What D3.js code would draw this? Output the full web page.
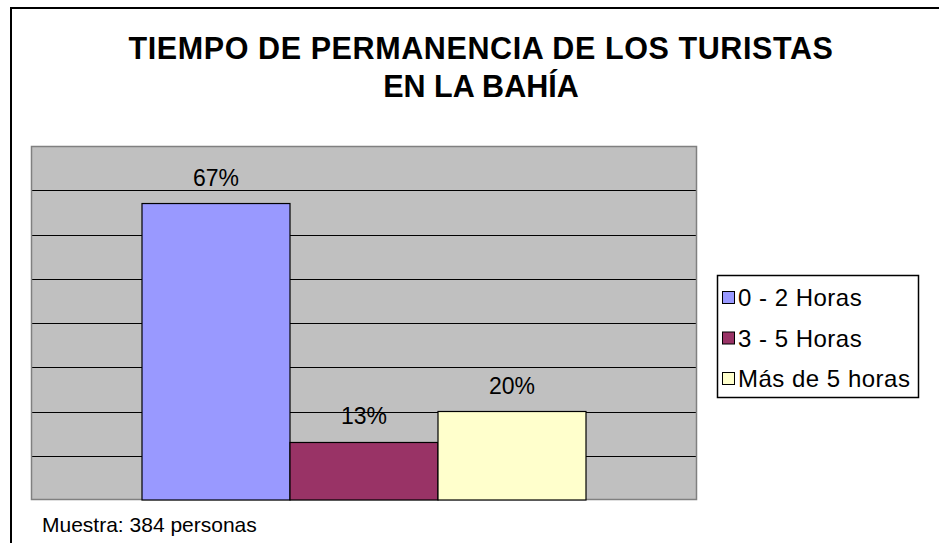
<!DOCTYPE html>
<html>
<head>
<meta charset="utf-8">
<script src="https://cdn.jsdelivr.net/npm/d3@7"></script>
<style>
  html, body { margin: 0; padding: 0; background: #fff; }
  svg { display: block; font-family: "Liberation Sans", Arial, sans-serif; }
</style>
</head>
<body>
<svg id="chart" width="939" height="543"></svg>
<script>
// datos del gráfico
const categories = ['Tiempo'];
const series = ['0 - 2 Horas', '3 - 5 Horas', 'Más de 5 horas'];
const values = [0.67, 0.13, 0.20];
const valueLabels = ['67%', '13%', '20%'];
const colors = ['#9999FF', '#993366', '#FFFFCC'];
const yTicks = [0.1, 0.2, 0.3, 0.4, 0.5, 0.6, 0.7];
const titleLines = ['TIEMPO DE PERMANENCIA DE LOS TURISTAS', 'EN LA BAHÍA'];
const footnote = 'Muestra: 384 personas';

const svg = d3.select('#chart');

// marco exterior (recortado a la derecha y abajo)
svg.append('rect')
  .attr('x', 11).attr('y', 8)
  .attr('width', 960).attr('height', 560)
  .attr('fill', '#fff')
  .attr('stroke', '#000')
  .attr('stroke-width', 2);

// título
svg.append('g').selectAll('text')
  .data(titleLines)
  .join('text')
  .attr('x', 481)
  .attr('y', (d, i) => 59 + i * 37.5)
  .attr('text-anchor', 'middle')
  .style('font-size', '30.5px')
  .style('font-weight', 'bold')
  .style('letter-spacing', (d, i) => i === 0 ? '0.6px' : '0px')
  .text(d => d);

const plot = { left: 31, top: 146, right: 697, bottom: 500 };

const y = d3.scaleLinear().domain([0, 0.8]).range([plot.bottom, plot.top]);
const x0 = d3.scaleBand()
  .domain(categories)
  .range([plot.left, plot.right])
  .paddingInner(0)
  .paddingOuter(0.25);
const x1 = d3.scaleBand()
  .domain(series)
  .range([0, x0.bandwidth()])
  .padding(0);

// área del gráfico
svg.append('rect')
  .attr('x', plot.left).attr('y', plot.top)
  .attr('width', plot.right - plot.left)
  .attr('height', plot.bottom - plot.top)
  .attr('fill', '#C0C0C0');

// líneas de división
svg.append('g').selectAll('line')
  .data(yTicks)
  .join('line')
  .attr('x1', plot.left).attr('x2', plot.right)
  .attr('y1', d => Math.round(y(d)) + 0.5)
  .attr('y2', d => Math.round(y(d)) + 0.5)
  .attr('stroke', '#000')
  .attr('stroke-width', 1.2);

svg.append('rect')
  .attr('x', plot.left + 0.5).attr('y', plot.top + 0.5)
  .attr('width', plot.right - plot.left - 1)
  .attr('height', plot.bottom - plot.top - 1)
  .attr('fill', 'none')
  .attr('stroke', '#808080')
  .attr('stroke-width', 1.5);

// barras
const groups = svg.append('g').selectAll('g')
  .data(categories)
  .join('g')
  .attr('transform', d => `translate(${x0(d)},0)`);

groups.selectAll('rect')
  .data(series.map((s, i) => ({ s, v: values[i], c: colors[i], label: valueLabels[i] })))
  .join('rect')
  .attr('x', d => x1(d.s))
  .attr('y', d => y(d.v))
  .attr('width', x1.bandwidth())
  .attr('height', d => y(0) - y(d.v))
  .attr('fill', d => d.c)
  .attr('stroke', '#000')
  .attr('stroke-width', 1.2);

groups.selectAll('text')
  .data(series.map((s, i) => ({ s, v: values[i], label: valueLabels[i] })))
  .join('text')
  .attr('x', d => x1(d.s) + x1.bandwidth() / 2)
  .attr('y', d => y(d.v) - 18)
  .attr('text-anchor', 'middle')
  .style('font-size', '23px')
  .text(d => d.label);

// leyenda
const legend = svg.append('g').attr('transform', 'translate(717,275)');
legend.append('rect')
  .attr('x', 0.5).attr('y', 0.5)
  .attr('width', 201).attr('height', 122)
  .attr('fill', '#fff')
  .attr('stroke', '#000')
  .attr('stroke-width', 1.5);

const items = legend.selectAll('g.item')
  .data(series)
  .join('g')
  .attr('class', 'item')
  .attr('transform', (d, i) => `translate(0,${31 + i * 40.5})`);

items.append('rect')
  .attr('x', 5.5).attr('y', -14.5)
  .attr('width', 12).attr('height', 12)
  .attr('fill', (d, i) => colors[i])
  .attr('stroke', '#000')
  .attr('stroke-width', 1);

items.append('text')
  .attr('x', 21)
  .attr('y', 0)
  .style('font-size', '24px')
  .style('letter-spacing', '0.5px')
  .text(d => d);

// nota
svg.append('text')
  .attr('x', 42)
  .attr('y', 532)
  .style('font-size', '21px')
  .text(footnote);
</script>
</body>
</html>
